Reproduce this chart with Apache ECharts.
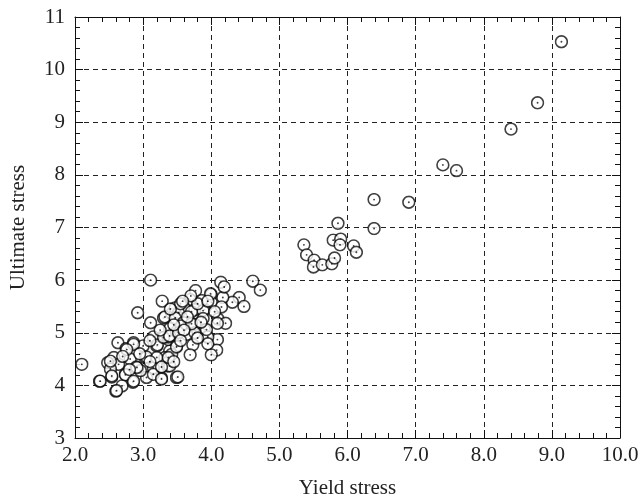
<!DOCTYPE html>
<html>
<head>
<meta charset="utf-8">
<script src="https://cdn.jsdelivr.net/npm/echarts@6/dist/echarts.min.js"></script>
<style>html,body{margin:0;padding:0;background:#fff}#c{width:643px;height:504px}</style>
</head>
<body>
<div id="c"></div>
<script>
// Yield stress (x), Ultimate stress (y)
const yieldStress = [
  2.10,3.11,4.61,4.72,4.41,4.48,4.31,4.17,4.14,4.19,
  5.36,5.40,5.51,5.50,5.63,5.77,5.81,5.79,5.90,5.89,5.86,6.09,6.13,6.39,6.39,6.90,7.40,7.60,8.40,8.79,9.14,
  4.00,4.00,4.15,3.90,4.10,4.21,4.09,3.90,3.94,4.09,4.08,4.00,
  3.28,2.92,3.11,3.30,3.42,3.39,3.27,3.37,2.63,2.75,2.86,3.00,3.20,3.03,2.81,2.57,2.48,2.64,2.90,3.15,3.38,3.36,
  2.52,2.74,2.54,3.05,2.85,2.69,2.36,2.60,3.27,3.49,3.15,2.96,
  3.77,3.99,3.69,3.86,3.60,3.76,3.88,3.47,3.52,3.71,3.88,3.32,3.47,3.59,3.76,3.37,3.49,3.64,3.76,3.95,
  3.49,3.73,3.95,3.69,3.39,3.32,3.39,3.51,
  3.56,3.15,3.21,3.42,3.05,3.20,2.52,2.91,3.27,3.27,2.61,
  3.71,3.93,3.30,3.39,3.52,2.86,3.49,2.76,3.37,2.54,2.74,2.86,2.37,
  3.55,3.65,3.80,3.45,3.60,3.85,3.25,3.10,2.95,2.70,2.80,3.10,3.45,3.55,3.80,4.05,3.95,3.70,3.58,3.40
];
const ultimateStress = [
  4.40,6.00,5.98,5.81,5.67,5.50,5.58,5.67,5.96,5.87,
  6.67,6.48,6.38,6.25,6.29,6.31,6.42,6.76,6.78,6.67,7.08,6.65,6.53,6.98,7.53,7.48,8.19,8.08,8.87,9.37,10.53,
  5.72,5.58,5.49,5.44,5.26,5.18,5.18,5.06,4.92,4.87,4.67,4.58,
  5.60,5.38,5.19,5.28,5.36,5.08,4.91,4.87,4.81,4.70,4.81,4.75,4.75,4.53,4.50,4.53,4.43,4.40,4.35,4.33,4.53,4.37,
  4.31,4.21,4.16,4.15,4.06,3.99,4.08,3.89,4.14,4.15,4.21,4.28,
  5.80,5.74,5.63,5.61,5.48,5.44,5.42,5.47,5.38,5.40,5.27,5.30,5.28,5.19,5.16,4.92,5.02,4.97,5.00,4.92,
  4.75,4.77,4.79,4.58,4.65,4.53,4.37,4.16,
  5.13,4.92,4.77,4.59,4.54,4.53,4.46,4.34,4.35,4.12,3.90,
  5.17,5.06,4.91,4.94,5.00,4.78,4.73,4.68,4.53,4.18,4.20,4.08,4.08,
  5.55,5.30,5.55,5.15,5.05,5.20,5.05,4.85,4.60,4.55,4.30,4.45,4.45,4.85,4.90,5.40,5.60,5.70,5.60,5.45
];
const xTicks = ['2.0','3.0','4.0','5.0','6.0','7.0','8.0','9.0','10.0'];
const yTicks = ['3','4','5','6','7','8','9','10','11'];

const points = yieldStress.map((x, i) => [x, ultimateStress[i]]);

const svg = '<svg xmlns="http://www.w3.org/2000/svg" width="28" height="28" viewBox="0 0 28 28">' +
  '<circle cx="14" cy="14" r="11.8" fill="white" stroke="#111" stroke-width="3.2"/>' +
  '<circle cx="14" cy="14" r="1.9" fill="#111"/></svg>';
const sym = 'image://data:image/svg+xml;charset=utf-8,' + encodeURIComponent(svg);

const font = 'Liberation Serif';
const baseAxis = {
  type: 'value',
  axisLine: { show: true, onZero: false, lineStyle: { color: '#111', width: 1 } },
  axisTick: { show: true, inside: true, length: 8, lineStyle: { color: '#111', width: 1 } },
  minorTick: { show: true, splitNumber: 5, length: 5, lineStyle: { color: '#111', width: 1 } },
  splitLine: { show: false },
  minorSplitLine: { show: false }
};

const chart = echarts.init(document.getElementById('c'), null, { renderer: 'canvas' });
chart.setOption({
  animation: false,
  backgroundColor: '#fff',
  grid: { left: 73, right: 23, top: 17, bottom: 63, containLabel: false },
  xAxis: [
    Object.assign({}, baseAxis, {
      position: 'bottom', min: 2, max: 10, interval: 1,
      name: 'Yield stress', nameLocation: 'middle', nameGap: 40,
      nameTextStyle: { fontFamily: font, fontSize: 21, color: '#222' },
      axisLabel: { show: true, margin: 7, fontFamily: font, fontSize: 21, color: '#222',
        showMinLabel: true, showMaxLabel: true,
        formatter: v => xTicks[Math.round(v - 2)] },
      splitLine: { show: true, lineStyle: { color: '#222', type: [5, 4], width: 1 } }
    }),
    Object.assign({}, baseAxis, {
      position: 'top', min: 2, max: 10, interval: 1,
      axisLabel: { show: false }
    })
  ],
  yAxis: [
    Object.assign({}, baseAxis, {
      position: 'left', min: 3, max: 11, interval: 1,
      name: 'Ultimate stress', nameLocation: 'middle', nameGap: 46,
      nameTextStyle: { fontFamily: font, fontSize: 21, color: '#222' },
      axisLabel: { show: true, margin: 10, fontFamily: font, fontSize: 21, color: '#222',
        showMinLabel: true, showMaxLabel: true,
        formatter: v => yTicks[Math.round(v - 3)] },
      splitLine: { show: true, lineStyle: { color: '#222', type: [5, 4], width: 1 } }
    }),
    Object.assign({}, baseAxis, {
      position: 'right', min: 3, max: 11, interval: 1,
      axisLabel: { show: false }
    })
  ],
  series: [{
    type: 'scatter',
    xAxisIndex: 0, yAxisIndex: 0,
    data: points,
    symbol: sym,
    symbolSize: 14
  }]
});
</script>
</body>
</html>
